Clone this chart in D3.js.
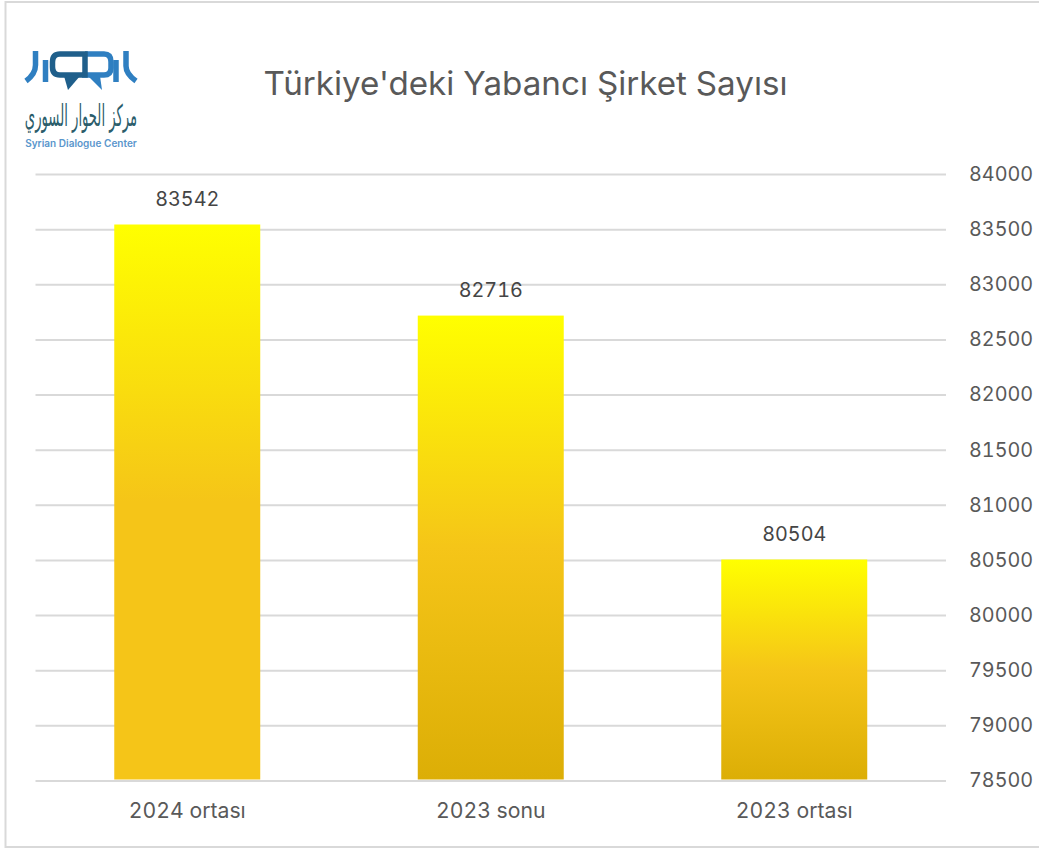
<!DOCTYPE html>
<html lang="tr"><head><meta charset="utf-8">
<script src="https://cdn.jsdelivr.net/npm/d3@7"></script>
<style>html,body{margin:0;padding:0;background:#fff}svg{display:block}text{font-family:Inter,"Noto Sans",sans-serif;font-variant-numeric:tabular-nums}</style>
</head><body><svg id="c" width="1039" height="848"></svg>
<script>
const categories = ["2024 ortası", "2023 sonu", "2023 ortası"];
const values = [83542, 82716, 80504];
const yTicks = [78500,79000,79500,80000,80500,81000,81500,82000,82500,83000,83500,84000];
const chartTitle = "Türkiye'deki Yabancı Şirket Sayısı";

const svg = d3.select("#c");
const x = d3.scaleBand().domain(categories).range([35.5, 946]).paddingInner(0.519).paddingOuter(0.2595);
const y = d3.scaleLinear().domain([78500, 84000]).range([780.5, 174]);

// frame
svg.append("path").attr("d","M1039 2H5.5V847H1039").attr("fill","none").attr("stroke","#d9d9d9").attr("stroke-width",2);

// gradients
const defs = svg.append("defs");
const stops = [
  [[0,"#ffff00"],[0.5,"#f5c518"],[1,"#f5c518"]],
  [[0,"#ffff00"],[0.5,"#f5c518"],[1,"#dcae06"]],
  [[0,"#ffff00"],[0.5,"#f5c518"],[1,"#dcae06"]]
];
stops.forEach((s,i)=>{
  const g = defs.append("linearGradient").attr("id","g"+i).attr("x1",0).attr("y1",0).attr("x2",0).attr("y2",1);
  s.forEach(d=>g.append("stop").attr("offset",d[0]).attr("stop-color",d[1]));
});

// y axis with gridlines
const yAxis = svg.append("g").attr("transform","translate(946,0)")
  .call(d3.axisRight(y).tickValues(yTicks).tickSize(-910.5).tickPadding(23).tickFormat(d3.format("d")));
yAxis.select(".domain").remove();
yAxis.selectAll("line").attr("stroke","#d9d9d9").attr("stroke-width",2);
yAxis.selectAll("text").attr("fill","#595959").attr("font-size",19.8).style("font-family","Inter");

// bars
svg.selectAll("rect.bar").data(values).join("rect").attr("class","bar")
  .attr("x",(d,i)=>x(categories[i])).attr("width",x.bandwidth())
  .attr("y",d=>y(d)).attr("height",d=>y(78500)-y(d)-1)
  .attr("fill",(d,i)=>`url(#g${i})`);

// value labels
svg.selectAll("text.val").data(values).join("text").attr("class","val")
  .attr("x",(d,i)=>x(categories[i])+x.bandwidth()/2).attr("y",d=>y(d)-18.5)
  .attr("text-anchor","middle").attr("fill","#454545").attr("font-size",19.8).text(d=>d);

// x axis
const xAxis = svg.append("g").attr("transform","translate(0,780.5)")
  .call(d3.axisBottom(x).tickSize(0).tickPadding(22));
xAxis.select(".domain").remove();
xAxis.selectAll("text").attr("fill","#595959").attr("font-size",21.2).style("font-family","Inter");

// title
svg.append("text").attr("x",525.5).attr("y",95).attr("text-anchor","middle")
  .attr("fill","#595959").attr("font-size",33.2).text(chartTitle);

// logo
const logo = svg.append("g").attr("fill","none").attr("stroke-width",5.5);
const blue="#2f7fc1", dark="#1f5f8b";
logo.append("path").attr("stroke",blue).attr("d","M35.5 51V65Q35.5 74 26 81");
logo.append("path").attr("stroke",blue).attr("d","M45.5 60V82");
logo.append("path").attr("stroke",blue).attr("d","M85 54H104Q111 54 111 62V68Q111 75 104 75H82");
logo.append("path").attr("stroke",dark).attr("d","M85 54H60Q52.5 54 52.5 62V67Q52.5 75 60 75H85Z");
logo.append("path").attr("fill",dark).attr("stroke","none").attr("d","M64 76H80L68 90Z");
logo.append("path").attr("fill",blue).attr("stroke","none").attr("d","M88 76H100L102 90Z");
logo.append("path").attr("stroke",blue).attr("d","M116 82V60");
logo.append("path").attr("stroke",blue).attr("d","M126 51V66Q126 74 136 81");
svg.append("text").attr("transform","translate(81,126) scale(0.66,1.5)").attr("text-anchor","middle").attr("direction","rtl")
  .attr("fill","#2b5d6b").attr("font-size",20).style("font-family","DejaVu Sans").text("مركز الحوار السوري");
svg.append("text").attr("x",81).attr("y",147).attr("text-anchor","middle")
  .attr("fill","#5a96cc").attr("font-size",10).attr("font-weight",600).text("Syrian Dialogue Center");
</script></body></html>
